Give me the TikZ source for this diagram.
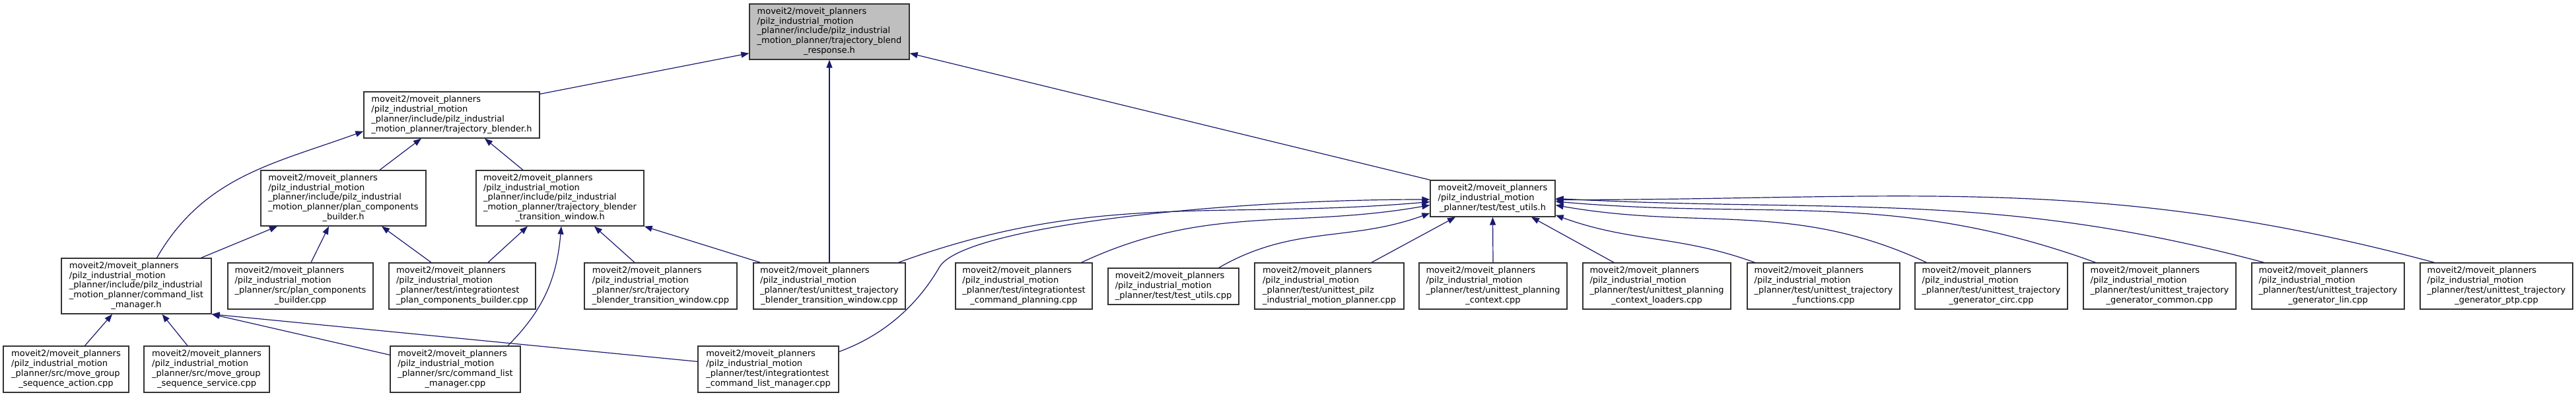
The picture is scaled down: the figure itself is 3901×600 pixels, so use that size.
\documentclass[tikz,border=0pt]{standalone}
\usepackage{fontspec}
\setmainfont{DejaVu Sans}
\usetikzlibrary{arrows.meta}
\definecolor{midnight}{HTML}{191970}
\newcommand{\depfile}[2]{\begin{tabular}{@{}l@{}}#1\\\multicolumn{1}{@{}c@{}}{#2}\end{tabular}}

\begin{document}
\begin{tikzpicture}[x=1pt, y=1pt,
        file/.style={draw=black!80, line width=1.3pt, fill=white, inner sep=0pt, font=\fontsize{13}{14.8}\selectfont},
        rootfile/.style={file, fill=black!25},
        dep/.style={draw=midnight, line width=1.2pt, -{Triangle[length=12pt,width=9pt]}}]
        \fill[white] (0,0) rectangle (3901,-600);

        \node (root) [rootfile, minimum width=242pt, minimum height=84pt] at (1256,-48) {\depfile{moveit2/moveit\_planners\\/pilz\_industrial\_motion\\\_planner/include/pilz\_industrial\\\_motion\_planner/trajectory\_blend}{\_response.h}};

        \node (blender) [file, minimum width=266pt, minimum height=70pt] at (684,-174) {\depfile{moveit2/moveit\_planners\\/pilz\_industrial\_motion\\\_planner/include/pilz\_industrial}{\_motion\_planner/trajectory\_blender.h}};
        \node (testutilsh) [file, minimum width=189pt, minimum height=55pt] at (2260.5,-300.5) {\depfile{moveit2/moveit\_planners\\/pilz\_industrial\_motion}{\_planner/test/test\_utils.h}};

        \node (pcbh) [file, minimum width=250pt, minimum height=84pt] at (520,-300) {\depfile{moveit2/moveit\_planners\\/pilz\_industrial\_motion\\\_planner/include/pilz\_industrial\\\_motion\_planner/plan\_components}{\_builder.h}};
        \node (windowh) [file, minimum width=254pt, minimum height=84pt] at (848,-300) {\depfile{moveit2/moveit\_planners\\/pilz\_industrial\_motion\\\_planner/include/pilz\_industrial\\\_motion\_planner/trajectory\_blender}{\_transition\_window.h}};

        \node (clmh) [file, minimum width=227pt, minimum height=84pt] at (206.5,-433) {\depfile{moveit2/moveit\_planners\\/pilz\_industrial\_motion\\\_planner/include/pilz\_industrial\\\_motion\_planner/command\_list}{\_manager.h}};
        \node (pcbcpp) [file, minimum width=220pt, minimum height=70pt] at (455,-433) {\depfile{moveit2/moveit\_planners\\/pilz\_industrial\_motion\\\_planner/src/plan\_components}{\_builder.cpp}};
        \node (itpcb) [file, minimum width=222pt, minimum height=70pt] at (700,-433) {\depfile{moveit2/moveit\_planners\\/pilz\_industrial\_motion\\\_planner/test/integrationtest}{\_plan\_components\_builder.cpp}};
        \node (windowcpp) [file, minimum width=231pt, minimum height=70pt] at (1000.5,-433) {\depfile{moveit2/moveit\_planners\\/pilz\_industrial\_motion\\\_planner/src/trajectory}{\_blender\_transition\_window.cpp}};
        \node (utwindow) [file, minimum width=230pt, minimum height=70pt] at (1256,-433) {\depfile{moveit2/moveit\_planners\\/pilz\_industrial\_motion\\\_planner/test/unittest\_trajectory}{\_blender\_transition\_window.cpp}};
        \node (itcmdplan) [file, minimum width=207pt, minimum height=70pt] at (1550.5,-433) {\depfile{moveit2/moveit\_planners\\/pilz\_industrial\_motion\\\_planner/test/integrationtest}{\_command\_planning.cpp}};
        \node (testutilscpp) [file, minimum width=198pt, minimum height=55pt] at (1777,-433.5) {\depfile{moveit2/moveit\_planners\\/pilz\_industrial\_motion}{\_planner/test/test\_utils.cpp}};
        \node (utpilz) [file, minimum width=226pt, minimum height=70pt] at (2013,-433) {\depfile{moveit2/moveit\_planners\\/pilz\_industrial\_motion\\\_planner/test/unittest\_pilz}{\_industrial\_motion\_planner.cpp}};
        \node (utpc) [file, minimum width=224pt, minimum height=70pt] at (2261,-433) {\depfile{moveit2/moveit\_planners\\/pilz\_industrial\_motion\\\_planner/test/unittest\_planning}{\_context.cpp}};
        \node (utpcl) [file, minimum width=224pt, minimum height=70pt] at (2509,-433) {\depfile{moveit2/moveit\_planners\\/pilz\_industrial\_motion\\\_planner/test/unittest\_planning}{\_context\_loaders.cpp}};
        \node (uttf) [file, minimum width=231pt, minimum height=70pt] at (2761.5,-433) {\depfile{moveit2/moveit\_planners\\/pilz\_industrial\_motion\\\_planner/test/unittest\_trajectory}{\_functions.cpp}};
        \node (utcirc) [file, minimum width=231pt, minimum height=70pt] at (3015.5,-433) {\depfile{moveit2/moveit\_planners\\/pilz\_industrial\_motion\\\_planner/test/unittest\_trajectory}{\_generator\_circ.cpp}};
        \node (utcommon) [file, minimum width=231pt, minimum height=70pt] at (3270.5,-433) {\depfile{moveit2/moveit\_planners\\/pilz\_industrial\_motion\\\_planner/test/unittest\_trajectory}{\_generator\_common.cpp}};
        \node (utlin) [file, minimum width=231pt, minimum height=70pt] at (3525.5,-433) {\depfile{moveit2/moveit\_planners\\/pilz\_industrial\_motion\\\_planner/test/unittest\_trajectory}{\_generator\_lin.cpp}};
        \node (utptp) [file, minimum width=231pt, minimum height=70pt] at (3780.5,-433) {\depfile{moveit2/moveit\_planners\\/pilz\_industrial\_motion\\\_planner/test/unittest\_trajectory}{\_generator\_ptp.cpp}};

        \node (action) [file, minimum width=190pt, minimum height=70pt] at (100,-559) {\depfile{moveit2/moveit\_planners\\/pilz\_industrial\_motion\\\_planner/src/move\_group}{\_sequence\_action.cpp}};
        \node (service) [file, minimum width=190pt, minimum height=70pt] at (313,-559) {\depfile{moveit2/moveit\_planners\\/pilz\_industrial\_motion\\\_planner/src/move\_group}{\_sequence\_service.cpp}};
        \node (clmcpp) [file, minimum width=197pt, minimum height=70pt] at (689.5,-559) {\depfile{moveit2/moveit\_planners\\/pilz\_industrial\_motion\\\_planner/src/command\_list}{\_manager.cpp}};
        \node (itclm) [file, minimum width=213pt, minimum height=70pt] at (1163.5,-559) {\depfile{moveit2/moveit\_planners\\/pilz\_industrial\_motion\\\_planner/test/integrationtest}{\_command\_list\_manager.cpp}};

        \draw[dep] ([yshift=-4pt]blender.north east) -- ([yshift=10pt]root.south west);
        \draw[dep] (utwindow.north) -- (root.south);
        \draw[dep] (testutilsh.north west) -- ([yshift=10pt]root.south east);

        \draw[dep] ([xshift=55pt]pcbh.north) -- ([xshift=-46pt]blender.south);
        \draw[dep] ([xshift=-56pt]windowh.north) -- ([xshift=50pt]blender.south);
        \draw[dep] ([xshift=31pt]clmh.north) .. controls +(60:143) and +(200:143) .. ([yshift=11pt]blender.south west);

        \draw[dep] ([xshift=98pt]clmh.north) -- ([xshift=-100pt]pcbh.south);
        \draw[dep] ([xshift=16pt]pcbcpp.north) -- ([xshift=-22pt]pcbh.south);
        \draw[dep] ([xshift=-47pt]itpcb.north) -- ([xshift=58pt]pcbh.south);
        \draw[dep] ([xshift=39pt]itpcb.north) -- ([xshift=-49pt]windowh.south);
        \draw[dep] ([xshift=79.5pt]clmcpp.north) .. controls +(45:78) and +(-95:78) .. ([xshift=2pt]windowh.south);
        \draw[dep] ([xshift=-39.5pt]windowcpp.north) -- ([xshift=52pt]windowh.south);
        \draw[dep] ([xshift=11pt]utwindow.north west) -- (windowh.south east);

        \draw[dep] ([xshift=28.5pt]action.north) -- ([xshift=-36.5pt]clmh.south);
        \draw[dep] ([xshift=-29pt]service.north) -- ([xshift=39pt]clmh.south);
        \draw[dep] ([yshift=-14pt]clmcpp.north west) -- (clmh.south east);
        \draw[dep] ([yshift=-24pt]itclm.north west) -- (clmh.south east);

        \draw[dep] ([yshift=-9pt]itclm.north east) .. controls +(20:90) and +(240:45) .. ++(152,128)
            .. controls +(60:70) and +(180:320) .. ([yshift=-1.5pt]testutilsh.west);
        \draw[dep] ([xshift=-11pt]utwindow.north east) .. controls +(20:318) and +(185:318) .. ([yshift=-5pt]testutilsh.west);
        \draw[dep] ([xshift=-17pt]itcmdplan.north east) .. controls +(25:210) and +(190:210) .. ([yshift=-10pt]testutilsh.west);
        \draw[dep] ([xshift=-31pt]testutilscpp.north east) .. controls +(30:130) and +(200:130) .. ([yshift=6pt]testutilsh.south west);
        \draw[dep] ([xshift=64pt]utpilz.north) -- ([xshift=-56.5pt]testutilsh.south);
        \draw[dep] (utpc.north) -- (testutilsh.south);
        \draw[dep] ([xshift=-65pt]utpcl.north) -- ([xshift=58.5pt]testutilsh.south);
        \draw[dep] ([xshift=12pt]uttf.north west) .. controls +(160:122) and +(-20:122) .. ([yshift=3pt]testutilsh.south east);
        \draw[dep] ([xshift=18pt]utcirc.north west) .. controls +(155:223) and +(-10:223) .. ([yshift=-10pt]testutilsh.east);
        \draw[dep] ([xshift=19pt]utcommon.north west) .. controls +(160:323) and +(-5:323) .. ([yshift=-4.5pt]testutilsh.east);
        \draw[dep] ([xshift=19pt]utlin.north west) .. controls +(165:422) and +(-3:422) .. (testutilsh.east);
        \draw[dep] ([xshift=22pt]utptp.north west) .. controls +(165:523) and +(0:523) .. ([yshift=-2pt]testutilsh.east);
    \end{tikzpicture}
\end{document}
